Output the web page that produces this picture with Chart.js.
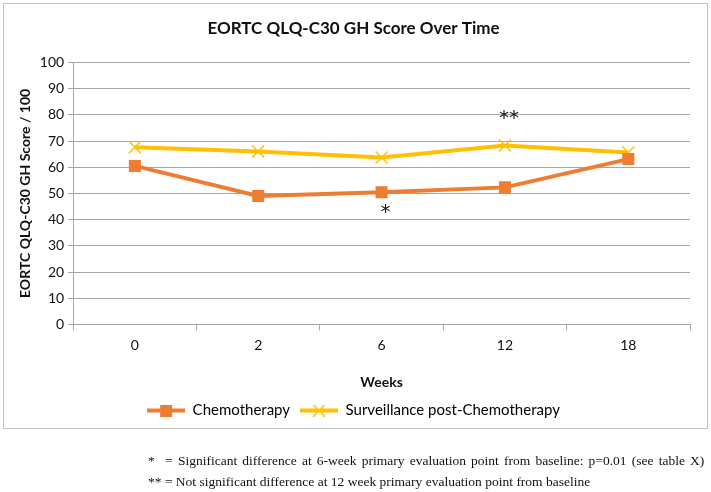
<!DOCTYPE html>
<html>
<head>
<meta charset="utf-8">
<script src="https://cdn.jsdelivr.net/npm/chart.js@4.4.1/dist/chart.umd.min.js"></script>
<style>
  html, body { margin: 0; padding: 0; background: #fff; }
  #wrap { position: relative; width: 711px; height: 492px; overflow: hidden; }
  #frame { position: absolute; left: 3px; top: 3px; width: 703px; height: 424px; border: 1px solid #bfbfbf; }
  #chart { position: absolute; left: 0; top: 0; }
  .note { position: absolute; left: 148px; font-family: "Liberation Serif", serif; font-size: 13.5px; color: #111; white-space: pre; }
</style>
</head>
<body>
<div id="wrap">
  <div id="frame"></div>
  <canvas id="chart" width="711" height="492"></canvas>
  <div class="note" style="top:453px; word-spacing:1.8px">*  = Significant difference at 6-week primary evaluation point from baseline: p=0.01 (see table X)</div>
  <div class="note" style="top:474px">** = Not significant difference at 12 week primary evaluation point from baseline</div>
</div>
<script>
const weeks = ['0', '2', '6', '12', '18'];
const chemo = [60.5, 49.0, 50.4, 52.3, 63.1];
const surveillance = [67.6, 66.0, 63.7, 68.3, 65.6];
const markWeeks = ['6', '12'];
const markValues = [43.6, 79.7];
const markLabels = ['*', '**'];

const font = 'Lato';
const orange = '#ed7d31';
const yellow = '#ffc000';

// small line+marker swatches for the legend
function swatch(color, kind) {
  const c = document.createElement('canvas');
  c.width = 38; c.height = 12;
  const g = c.getContext('2d');
  g.strokeStyle = color;
  g.fillStyle = color;
  g.lineWidth = 4;
  g.beginPath(); g.moveTo(0, 6); g.lineTo(38, 6); g.stroke();
  if (kind === 'rect') {
    g.fillRect(13, 0, 12, 12);
  } else {
    g.lineWidth = 1.5;
    g.beginPath();
    g.moveTo(13, 0); g.lineTo(25, 12);
    g.moveTo(25, 0); g.lineTo(13, 12);
    g.stroke();
  }
  return c;
}

const starPlugin = {
  id: 'stars',
  afterDatasetsDraw(chart) {
    const { ctx, scales } = chart;
    ctx.save();
    ctx.fillStyle = '#111';
    ctx.font = '20px "DejaVu Sans"';
    ctx.textAlign = 'center';
    ctx.textBaseline = 'middle';
    markLabels.forEach((t, i) => {
      const x = scales.x.getPixelForValue(weeks.indexOf(markWeeks[i]));
      const y = scales.y.getPixelForValue(markValues[i]);
      ctx.fillText(t, x + 4, y + 3);
    });
    ctx.restore();
  }
};

new Chart(document.getElementById('chart'), {
  type: 'line',
  data: {
    labels: weeks,
    datasets: [{
      label: 'Chemotherapy',
      data: chemo,
      borderColor: orange,
      backgroundColor: orange,
      borderWidth: 4,
      pointStyle: 'rect',
      pointRadius: 8.5,
      pointBorderWidth: 0,
      tension: 0
    }, {
      label: 'Surveillance post-Chemotherapy',
      data: surveillance,
      borderColor: yellow,
      backgroundColor: yellow,
      borderWidth: 4,
      pointStyle: 'crossRot',
      pointRadius: 8.5,
      pointBorderWidth: 1.5,
      tension: 0
    }]
  },
  options: {
    responsive: false,
    animation: false,
    layout: { padding: { left: 17, right: 21, top: 10, bottom: 64 } },
    plugins: {
      title: {
        display: true,
        text: 'EORTC QLQ-C30 GH Score Over Time',
        color: '#111',
        font: { family: font, size: 17, weight: 'bold' },
        padding: { top: 8, bottom: 24 }
      },
      legend: {
        position: 'bottom',
        labels: {
          color: '#111',
          font: { family: font, size: 15 },
          usePointStyle: true,
          pointStyleWidth: 38,
          boxHeight: 12,
          padding: 10,
          generateLabels(chart) {
            return chart.data.datasets.map((d, i) => ({
              text: d.label,
              pointStyle: swatch(d.borderColor, i === 0 ? 'rect' : 'x'),
              fillStyle: d.borderColor,
              strokeStyle: d.borderColor,
              lineWidth: 0,
              datasetIndex: i
            }));
          }
        }
      },
      tooltip: { enabled: false }
    },
    scales: {
      x: {
        offset: true,
        grid: {
          offset: true,
          drawOnChartArea: false,
          drawTicks: true,
          tickLength: 6,
          color: '#a6a6a6'
        },
        border: { color: '#a6a6a6' },
        ticks: { color: '#111', font: { family: font, size: 14 }, padding: 7 },
        title: {
          display: true,
          text: 'Weeks',
          color: '#111',
          font: { family: font, size: 14, weight: 'bold' },
          padding: { top: 13, bottom: 2 }
        }
      },
      y: {
        min: 0,
        max: 100,
        ticks: { stepSize: 10, color: '#111', font: { family: font, size: 14 }, padding: 4 },
        grid: { color: '#a6a6a6', tickLength: 5 },
        border: { color: '#a6a6a6' },
        title: {
          display: true,
          text: 'EORTC QLQ-C30 GH Score / 100',
          color: '#111',
          font: { family: font, size: 14, weight: 'bold' },
          padding: { top: 0, bottom: 2 }
        }
      }
    }
  },
  plugins: [starPlugin]
});
</script>
</body>
</html>
